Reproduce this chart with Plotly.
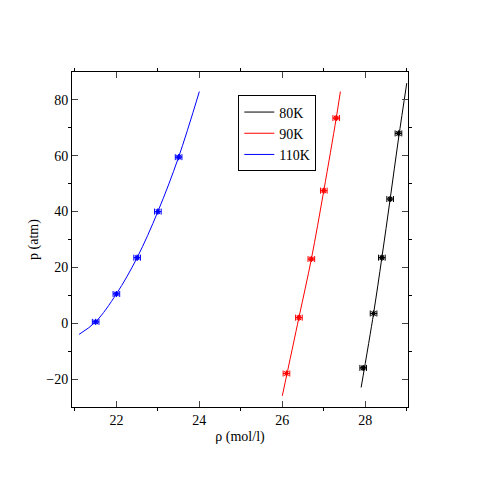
import plotly.graph_objects as go

labels = ["80K", "90K", "110K"]
colors = ["black", "red", "blue"]
pts_x = [[27.95, 28.2, 28.4, 28.6, 28.8],
         [26.1, 26.4, 26.7, 27.0, 27.3],
         [21.5, 22.0, 22.5, 23.0, 23.5]]
pts_y = [[-16, 3.5, 23.5, 44.5, 68],
         [-18, 2, 23, 47.5, 73.5],
         [0.5, 10.5, 23.5, 40, 59.5]]
fit_x = [[27.9, 28.2, 28.4, 28.6, 28.8, 29.0],
         [26.0, 26.4, 26.7, 27.0, 27.3, 27.4],
         [21.1, 21.5, 22.0, 22.5, 23.0, 23.5, 24.0]]
fit_y = [[-23, 3.5, 23.5, 44.5, 66, 86],
         [-26, 2, 23, 47.5, 73.5, 83],
         [-4, 0.5, 10.5, 23.5, 40, 59.5, 83]]

fig = go.Figure()
for i in range(3):
    fig.add_trace(go.Scatter(x=fit_x[i], y=fit_y[i], mode="lines", line=dict(color=colors[i], width=1, shape="spline"),
                             name=labels[i]))
    fig.add_trace(go.Scatter(x=pts_x[i], y=pts_y[i], mode="markers", showlegend=False,
                             marker=dict(symbol="asterisk-open", size=5, color=colors[i], line=dict(color=colors[i], width=1.2)),
                             error_x=dict(type="constant", value=0.08, color=colors[i], thickness=1, width=3),
                             error_y=dict(type="constant", value=1, color=colors[i], thickness=1, width=0)))

serif = "Liberation Serif"
fig.update_layout(width=480, height=480, plot_bgcolor="white", paper_bgcolor="white",
                  margin=dict(l=64, r=80, t=64, b=81, autoexpand=False),
                  font=dict(family=serif, size=14, color="black"),
                  legend=dict(x=0.495, y=0.93, xanchor="left", yanchor="top", bgcolor="white",
                              bordercolor="black", borderwidth=1, font=dict(family=serif, size=14), tracegroupgap=0))
fig.update_xaxes(range=[20.93, 29.03], tickvals=[22, 24, 26, 28], minor=dict(tickvals=[21, 23, 25, 27, 29], ticklen=3, tickcolor="black"),
                 ticks="inside", ticklen=6, showline=True, linecolor="black", mirror="allticks", showgrid=False, zeroline=False,
                 tickfont=dict(family=serif, size=14, color="black"),
                 automargin=False, title=dict(text="ρ (mol/l)", standoff=4, font=dict(family=serif, size=14)))
fig.update_yaxes(range=[-30, 90], tickvals=[-20, 0, 20, 40, 60, 80], minor=dict(tickvals=[-30, -10, 10, 30, 50, 70, 90], ticklen=3, tickcolor="black"),
                 ticks="inside", ticklen=6, showline=True, linecolor="black", mirror="allticks", showgrid=False, zeroline=False,
                 tickfont=dict(family=serif, size=14, color="black"),
                 automargin=False, title=dict(text="p (atm)", standoff=4, font=dict(family=serif, size=14)))
fig.write_html("out.html")
